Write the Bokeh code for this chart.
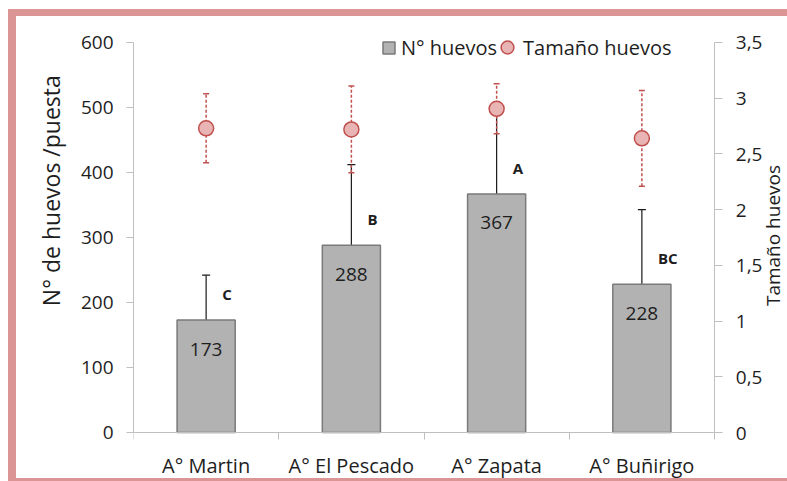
import numpy as np
from bokeh.plotting import figure
from bokeh.core.properties import value
from bokeh.models import (ColumnDataSource, Range1d, LinearAxis, FixedTicker,
                          CustomJSTickFormatter, Whisker, TeeHead, Legend, LegendItem, Label)
from bokeh.embed import file_html
from bokeh.resources import INLINE

# ---- data ----
categories = ["A° Martin", "A° El Pescado", "A° Zapata", "A° Buñirigo"]
huevos = [173, 288, 367, 228]
huevos_err = [69, 124, 123, 115]
tamano = [2.73, 2.72, 2.905, 2.64]
tamano_err = [0.31, 0.39, 0.225, 0.43]
letras = ["C", "B", "A", "BC"]
y_ticks = [0, 100, 200, 300, 400, 500, 600]
y2_ticks = [0, 0.5, 1, 1.5, 2, 2.5, 3, 3.5]
y_title = "N° de huevos /puesta"
y2_title = "Tamaño huevos"
Y_MAX, Y2_MAX = 600, 3.5

# ---- layout / style ----
FONT = "Open Sans"
PINK = "#DB9595"
AXIS_GREY = "#BFBFBF"
TXT = "#1E1E1E"
W, H = 787, 481
LEFT, PLOT_W, PLOT_H = 133, 581, 391   # plot area: x 133..714, y 42..433
TOP, BOTTOM = 29, 48
HEAD = 1.0333                          # headroom above the top tick (legend sits inside)
FOOT = 9                               # px of frame below the zero line
NCAT = len(categories)
X_END = NCAT * (W - LEFT) / PLOT_W     # frame runs to the right edge; axis stops at NCAT
Y_START = -FOOT * Y_MAX / PLOT_H
Y2_START = -FOOT * Y2_MAX / PLOT_H
NBSP = "\u00a0"

xc = np.arange(NCAT) + 0.5
src = ColumnDataSource(dict(
    x=xc, cat=categories, n=huevos,
    n_top=np.array(huevos) + np.array(huevos_err),
    nlab=[str(v) for v in huevos], let=letras,
    t=tamano,
    t_lo=np.array(tamano) - np.array(tamano_err),
    t_hi=np.array(tamano) + np.array(tamano_err),
))

p = figure(width=W, height=H, output_backend="svg", toolbar_location=None,
           x_range=Range1d(0, X_END), y_range=Range1d(Y_START, Y_MAX * HEAD),
           min_border_left=LEFT, min_border_right=0,
           min_border_top=TOP, min_border_bottom=BOTTOM - FOOT)
p.extra_y_ranges = {"y2": Range1d(Y2_START, Y2_MAX * HEAD)}
p.outline_line_color = None
p.xgrid.visible = False
p.ygrid.visible = False
p.background_fill_color = None
p.border_fill_color = None
g = f"linear-gradient({PINK},{PINK})"
p.styles = {
    "background": f"{g} 8px 9px / 779px 7px no-repeat, "
                  f"{g} 8px 9px / 8px 472px no-repeat, "
                  f"{g} 8px 478px / 779px 3px no-repeat, white"
}

# category labels (below panel)
xa = p.xaxis[0]
xa.ticker = FixedTicker(ticks=list(xc), minor_ticks=list(range(NCAT + 1)))
xa.formatter = CustomJSTickFormatter(args=dict(labels=categories),
                                     code="return labels[Math.floor(tick)]")
xa.major_tick_out = 0
xa.major_tick_in = 0
xa.minor_tick_out = 7
xa.minor_tick_in = 0
xa.axis_line_color = None
xa.minor_tick_line_color = None
xa.major_label_text_font = FONT
xa.major_label_text_font_size = "20px"
xa.major_label_text_color = TXT
xa.major_label_standoff = 12 - FOOT

# category axis line with ticks between categories, drawn at y = 0
xl = LinearAxis(fixed_location=0,
                ticker=FixedTicker(ticks=[], minor_ticks=list(range(NCAT + 1))))
xl.bounds = (0, NCAT)
xl.axis_line_color = AXIS_GREY
xl.major_tick_line_color = None
xl.minor_tick_line_color = AXIS_GREY
xl.minor_tick_in = 7
xl.minor_tick_out = 0
xl.major_tick_in = 0
xl.major_tick_out = 0
xl.major_label_text_font_size = "1px"
p.add_layout(xl, "above")

# left axis
ya = p.yaxis[0]
ya.ticker = FixedTicker(ticks=y_ticks, minor_ticks=[])
ya.bounds = (0, Y_MAX)
ya.axis_line_color = AXIS_GREY
ya.major_tick_line_color = AXIS_GREY
ya.major_tick_out = 7
ya.major_tick_in = 0
ya.minor_tick_line_color = None
ya.major_label_text_font = FONT
ya.major_label_text_font_size = "19px"
ya.major_label_text_color = TXT
ya.major_label_standoff = 13
ya.axis_label = NBSP * 15 + y_title
ya.axis_label_text_font = FONT
ya.axis_label_text_font_size = "23px"
ya.axis_label_text_font_style = "normal"
ya.axis_label_text_color = TXT
ya.axis_label_standoff = 11

# secondary (egg size) axis, drawn at the right end of the category axis
ra = LinearAxis(y_range_name="y2", fixed_location=NCAT,
                ticker=FixedTicker(ticks=y2_ticks, minor_ticks=[]),
                formatter=CustomJSTickFormatter(code="""
                    var s = tick.toString().replace('.', ',');
                    if (s.indexOf(',') < 0) { s = s + '\\u2008\\u2007'; }
                    return s;"""))
ra.bounds = (0, Y2_MAX)
ra.axis_line_color = AXIS_GREY
ra.major_tick_line_color = AXIS_GREY
ra.major_tick_out = 0
ra.major_tick_in = 8
ra.minor_tick_line_color = None
ra.major_label_text_font = FONT
ra.major_label_text_font_size = "19px"
ra.major_label_text_color = TXT
ra.major_label_standoff = -48
p.add_layout(ra, "left")

# right axis title
p.add_layout(Label(x=4.40, y=1.768, y_range_name="y2", text=y2_title,
                   angle=np.pi / 2, text_align="center", text_baseline="middle",
                   text_font=FONT, text_font_size="19px", text_color=TXT))

# bars
bars = p.vbar(x="x", top="n", bottom=0, width=0.4, source=src,
              fill_color="#B2B2B2", line_color="#7A7A7A", line_width=1.5)

# black error bars
p.add_layout(Whisker(source=src, base="x", lower="n", upper="n_top",
                     line_color="#1A1A1A", line_width=1.2,
                     upper_head=TeeHead(size=8, line_color="#1A1A1A", line_width=1.2),
                     lower_head=None, level="underlay"))

# red dashed error bars for egg size
p.add_layout(Whisker(source=src, base="x", lower="t_lo", upper="t_hi",
                     y_range_name="y2", line_color="#C0504D", line_width=1.5,
                     line_dash="3 2",
                     upper_head=TeeHead(size=6, line_color="#C0504D", line_width=1.5),
                     lower_head=TeeHead(size=6, line_color="#C0504D", line_width=1.5),
                     level="underlay"))

circles = p.scatter(x="x", y="t", source=src, y_range_name="y2", size=15,
                    fill_color="#E8B4B4", line_color="#C0504D", line_width=1.5)

# values inside bars and significance letters
p.text(x="x", y="n", text="nlab", source=src, y_offset=29,
       text_align="center", text_baseline="middle",
       text_font=value(FONT), text_font_size=value("19px"), text_color=TXT)
p.text(x="x", y="n", text="let", source=src, x_offset=16, y_offset=-26,
       text_align="left", text_baseline="middle",
       text_font=value(FONT), text_font_size=value("15px"),
       text_font_style="bold", text_color=TXT)

# legends (inside the frame); location = lower-left corner above the frame bottom
leg1 = Legend(items=[LegendItem(label="N° huevos", renderers=[bars])],
              orientation="horizontal", location=(248, 371 + FOOT),
              glyph_width=15, glyph_height=15, label_standoff=5,
              padding=0, margin=0, spacing=0,
              background_fill_alpha=0, border_line_color=None,
              label_text_font=FONT, label_text_font_size="20px", label_text_color=TXT)
leg2 = Legend(items=[LegendItem(label="Tamaño huevos", renderers=[circles])],
              orientation="horizontal", location=(358, 369 + FOOT),
              glyph_width=32, glyph_height=32, label_standoff=-10,
              padding=0, margin=0, spacing=0,
              background_fill_alpha=0, border_line_color=None,
              label_text_font=FONT, label_text_font_size="20px", label_text_color=TXT)
p.add_layout(leg1)
p.add_layout(leg2)

open("out.html", "w").write(file_html(p, INLINE))
